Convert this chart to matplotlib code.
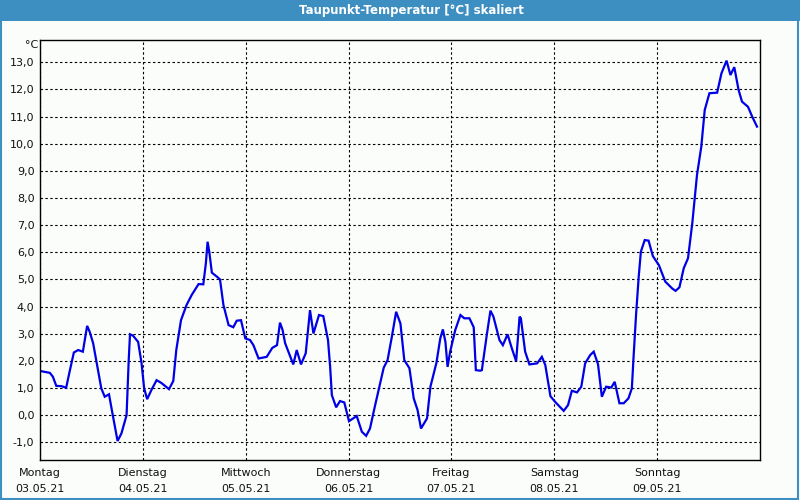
#! coding: utf-8
"""
Taupunkt-Temperatur ueber eine Woche (03.05.21 - 09.05.21), skaliert.
"""
import datetime
import matplotlib
matplotlib.use("Agg")
import matplotlib.pyplot as plt
import matplotlib.dates as mdates
from matplotlib.patches import Rectangle
from matplotlib.ticker import FuncFormatter, MultipleLocator

START = datetime.datetime(2021, 5, 3)

# hours since Monday 00:00 and dew point in degC
hours = [0.0, 2.3, 3.0, 3.8, 5.0, 6.1, 6.9, 7.9, 8.9, 10.0, 11.0, 11.6, 12.4,
         13.4, 14.3, 15.1, 16.1, 16.9, 18.1, 19.0, 20.2, 20.7, 21.0, 21.7,
         22.9, 23.7, 24.3, 25.0, 26.0, 27.2, 28.3, 30.1, 31.1, 31.8, 32.9,
         34.2, 35.4, 37.0, 38.1, 38.7, 39.1, 39.5, 40.1, 41.3, 42.0, 42.8,
         44.0, 45.1, 45.9, 46.9, 47.9, 49.0, 49.8, 51.0, 52.9, 54.2, 55.3,
         56.0, 56.6, 57.2, 58.1, 59.1, 59.9, 60.9, 62.0, 63.0, 63.8, 65.1,
         66.1, 67.2, 67.7, 68.1, 69.1, 70.0, 71.0, 72.1, 73.9, 75.1, 76.1,
         77.0, 78.2, 80.2, 81.1, 82.1, 83.1, 84.1, 85.0, 86.2, 87.2, 88.1,
         88.9, 90.3, 91.1, 92.5, 93.4, 94.0, 94.6, 95.1, 95.7, 96.9, 98.1,
         99.0, 100.2, 101.2, 101.7, 102.7, 103.1, 104.3, 105.1, 105.8, 107.2,
         108.0, 109.1, 110.1, 111.1, 111.9, 112.2, 113.2, 114.2, 116.0, 117.1,
         117.9, 119.1, 120.2, 122.2, 123.2, 124.1, 125.3, 126.3, 127.2, 128.4,
         129.2, 130.2, 131.1, 132.1, 133.3, 134.1, 135.2, 136.2, 137.3, 138.1,
         138.5, 139.1, 139.7, 140.2, 141.1, 142.0, 143.0, 144.4, 145.9, 147.5,
         148.3, 149.2, 150.2, 151.2, 152.2, 153.3, 154.3, 155.1, 156.2, 158.0,
         159.0, 160.2, 161.1, 162.0, 163.0, 163.8, 165.2, 166.2, 167.3]
dewpoint = [1.63, 1.56, 1.42, 1.08, 1.07, 1.01, 1.60, 2.31, 2.40, 2.34, 3.29,
            3.07, 2.65, 1.78, 0.99, 0.68, 0.77, 0.07, -0.95, -0.67, 0.00, 2.03,
            2.98, 2.93, 2.70, 1.91, 0.99, 0.59, 0.93, 1.29, 1.19, 0.96, 1.26,
            2.40, 3.50, 4.06, 4.43, 4.83, 4.82, 5.59, 6.39, 6.02, 5.25, 5.10,
            5.00, 4.06, 3.32, 3.24, 3.48, 3.50, 2.83, 2.77, 2.58, 2.09, 2.15,
            2.48, 2.58, 3.41, 3.14, 2.65, 2.28, 1.87, 2.40, 1.87, 2.28, 3.87,
            3.01, 3.69, 3.65, 2.77, 1.78, 0.74, 0.29, 0.52, 0.47, -0.22, -0.03,
            -0.61, -0.76, -0.49, 0.37, 1.75, 2.03, 2.89, 3.81, 3.38, 2.03, 1.73,
            0.62, 0.19, -0.49, -0.12, 1.05, 1.93, 2.83, 3.16, 2.70, 1.78, 2.34,
            3.14, 3.69, 3.57, 3.57, 3.24, 1.66, 1.64, 1.66, 3.01, 3.85, 3.63,
            2.77, 2.58, 2.98, 2.46, 1.99, 3.63, 3.57, 2.34, 1.87, 1.91, 2.15,
            1.85, 0.70, 0.49, 0.16, 0.37, 0.90, 0.84, 1.05, 1.91, 2.22, 2.34,
            1.88, 0.68, 1.05, 1.02, 1.23, 0.44, 0.44, 0.62, 0.99, 2.15, 3.75,
            5.10, 6.02, 6.45, 6.43, 5.86, 5.53, 4.92, 4.67, 4.58, 4.71, 5.41,
            5.78, 7.07, 8.85, 9.89, 11.24, 11.86, 11.88, 12.59, 13.06, 12.53,
            12.82, 11.98, 11.55, 11.36, 10.99, 10.63]

DAYNAMES = ["Montag", "Dienstag", "Mittwoch", "Donnerstag", "Freitag",
            "Samstag", "Sonntag"]

BLUE_BAR = "#3d8fc2"
BG = "#fbfdfb"


def day_label(x, pos):
	d = mdates.num2date(x)
	return "%s\n%s" % (DAYNAMES[d.weekday()], d.strftime("%d.%m.%y"))


def comma_fmt(y, pos):
	return ("%.1f" % y).replace(".", ",")


def main():
	times = [START + datetime.timedelta(hours=h) for h in hours]
	days = [START + datetime.timedelta(days=i) for i in range(len(DAYNAMES))]

	fig = plt.figure(figsize=(8, 5), dpi=100, facecolor=BG)
	ax = fig.add_axes([40/800., 40/500., 720/800., 420/500.])
	ax.set_facecolor(BG)

	ax.plot(times, dewpoint, color="#0000e6", lw=1.6, solid_joinstyle="miter")

	ax.set_xlim(START, START + datetime.timedelta(days=7))
	ax.set_ylim(-1.65, 13.82)

	ax.set_xticks(days)
	ax.xaxis.set_major_formatter(FuncFormatter(day_label))
	ax.yaxis.set_major_locator(MultipleLocator(1.0))
	ax.yaxis.set_major_formatter(FuncFormatter(comma_fmt))

	ax.grid(True, color="black", linestyle=(0, (2.2, 2.2)), lw=0.8)
	ax.tick_params(length=0, labelsize=8, colors="#111111")
	ax.tick_params(axis="x", pad=6)
	ax.tick_params(axis="y", pad=4)
	for label in ax.get_xticklabels():
		label.set_linespacing(1.75)
	for sp in ax.spines.values():
		sp.set_linewidth(1.0)
		sp.set_color("black")

	ax.text(-0.003, 1.0, u"°C", transform=ax.transAxes, ha="right",
			va="top", fontsize=8, color="#111111")

	# title bar and window frame
	fig.patches.append(Rectangle((0, 1 - 21/500.), 1, 21/500., transform=fig.transFigure,
								 facecolor=BLUE_BAR, edgecolor="none", zorder=-1))
	fig.patches.append(Rectangle((0.001, 0.002), 0.997, 0.996, transform=fig.transFigure,
								 facecolor="none", edgecolor=BLUE_BAR, lw=1.5))
	fig.text(0.514, 1 - 10.5/500., u"Taupunkt-Temperatur [°C] skaliert", ha="center",
			 va="center", color="white", fontsize=8.5, fontweight="bold")

	fig.savefig("out.png", dpi=100, facecolor=BG)
	return


if __name__ == "__main__":
	main()
